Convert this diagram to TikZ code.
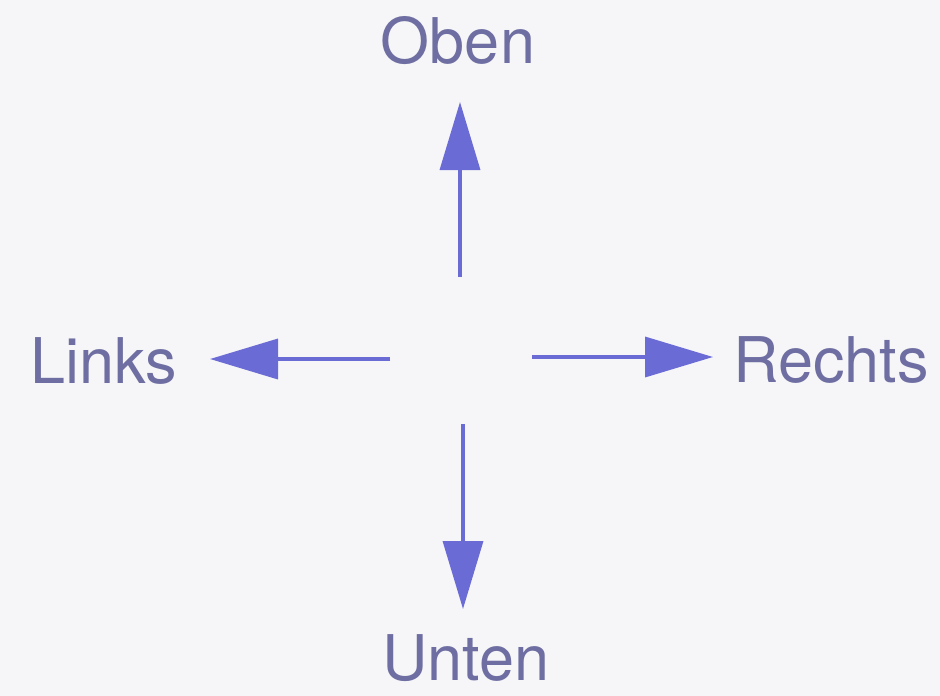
\documentclass[tikz,border=0pt]{standalone}
\usepackage{fontspec}
\setmainfont{TeX Gyre Heros}
\usetikzlibrary{arrows.meta}
\definecolor{arrowcol}{HTML}{6B6BD6}
\definecolor{textcol}{HTML}{6E6EA2}
\definecolor{bgcol}{HTML}{F6F6F8}
\tikzset{
  dirlabel/.style={inner sep=0pt, text=textcol, font=\fontsize{63}{72}\selectfont},
  dirarrow/.style={draw=arrowcol, line width=3.5pt, -{Triangle[length=68pt, width=40pt, fill=arrowcol]}}
}
\begin{document}
\begin{tikzpicture}[x=1pt, y=-1pt]
  \fill[bgcol] (0,0) rectangle (940,696);
  \useasboundingbox (0,0) rectangle (940,696);
  \node[dirlabel, anchor=base] (oben) at (458,63) {Oben};
  \node[dirlabel, anchor=base west] (links) at (30,383) {Links};
  \node[dirlabel, anchor=base west] (rechts) at (733,382) {Rechts};
  \node[dirlabel, anchor=base] (unten) at (466,680) {Unten};
  \coordinate (upS) at (460,277);
  \coordinate (upT) at (460,102);
  \coordinate (leftS) at (390,359);
  \coordinate (leftT) at (210,359);
  \coordinate (rightS) at (532,357);
  \coordinate (rightT) at (713,357);
  \coordinate (downS) at (463,424);
  \coordinate (downT) at (463,609);
  \draw[dirarrow] (upS) -- (upT);
  \draw[dirarrow] (leftS) -- (leftT);
  \draw[dirarrow] (rightS) -- (rightT);
  \draw[dirarrow] (downS) -- (downT);
\end{tikzpicture}
\end{document}
